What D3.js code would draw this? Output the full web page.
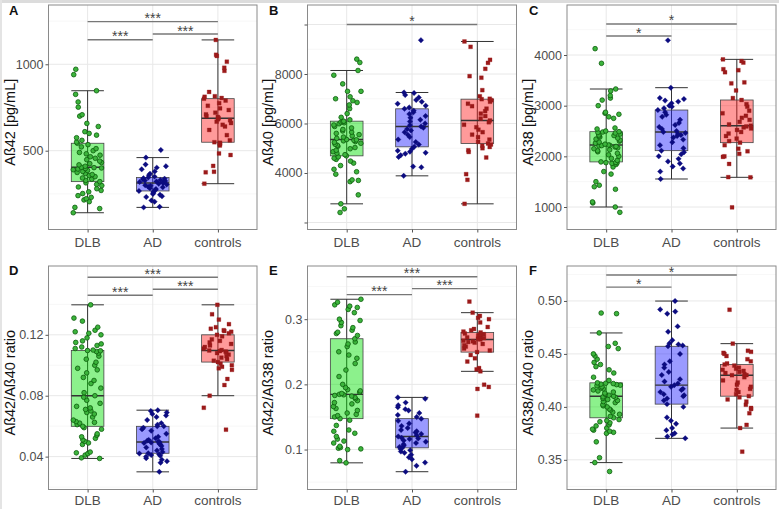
<!DOCTYPE html>
<html><head><meta charset="utf-8">
<script src="https://cdn.jsdelivr.net/npm/d3@7/dist/d3.min.js"></script>
<style>body{margin:0;background:#fff}svg text{font-family:"Liberation Sans",Arial,sans-serif}</style>
</head><body><svg id="chart" width="779" height="509"></svg>
<script>
const groups = ["DLB", "AD", "controls"];

// ---- Panel A: Aß42 [pg/mL]
const a42_DLB = [141,165,172,205,215,222,230,240,252,262,270,280,290,298,305,314,321,328,335,342,350,356,362,368,374,380,386,390,394,397,400,402,404,410,418,425,432,440,448,456,465,474,482,490,500,512,522,535,543,550,560,575,590,600,610,640,658,700,708,752,782,826,847,940,971];
const a42_AD = [172,175,205,212,232,236,245,250,255,262,267,272,278,283,288,292,297,300,304,308,313,316,319,322,325,328,331,335,338,341,345,350,358,366,380,392,402,410,420,460,504];
const a42_CTRL = [309,375,378,412,475,484,530,538,542,546,549,560,590,620,640,650,660,668,676,682,688,695,700,710,720,735,745,760,775,790,801,805,812,815,840,962,980,1015,1048,1055,1141];
const a42_ticks = [500, 1000];
const a42_range = [44, 1343];
const a42_sig = [["DLB","AD",1142,"***"],["AD","controls",1175,"***"],["DLB","controls",1247,"***"]];

// ---- Panel B: Aß40 [pg/mL]
const a40_DLB = [2404,2552,2754,3117,3650,3700,3720,3950,4050,4150,4300,4400,4480,4550,4600,4650,4693,4740,4800,4860,4920,4980,5030,5080,5120,5160,5200,5240,5270,5300,5320,5340,5353,5400,5450,5500,5550,5600,5650,5700,5760,5820,5880,5940,5990,6030,6060,6080,6094,6150,6250,6400,6600,6750,6850,6920,7000,7080,7300,7300,7600,7950,8142,8465,8600];
const a40_AD = [3885,4230,4262,4650,4720,4780,4820,4860,4900,4980,5057,5150,5250,5350,5450,5550,5650,5720,5780,5830,5879,5930,6000,6080,6150,6230,6300,6380,6450,6520,6593,6650,6720,6800,6880,6950,7050,7150,7230,7253,9368];
const a40_CTRL = [2754,3724,3953,4626,4850,4920,5000,5050,5100,5150,5192,5260,5350,5450,5550,5650,5750,5850,5950,6050,6121,6200,6300,6400,6500,6600,6700,6800,6880,6940,6983,7000,7100,7347,7850,7913,8209,8450,8573,9098,9314];
const a40_ticks = [2000, 4000, 6000, 8000, 10000];
const a40_labels = ["", "4000", "6000", "8000", ""];
const a40_range = [1717, 10788];
const a40_sig = [["DLB","controls",10000,"*"]];

// ---- Panel C: Aß38 [pg/mL]
const a38_DLB = [895,1000,1080,1100,1350,1400,1430,1500,1650,1700,1790,1840,1860,1870,1875,1880,1890,1920,1960,2000,2030,2060,2090,2110,2130,2150,2170,2185,2195,2205,2212,2218,2224,2240,2260,2280,2300,2320,2340,2360,2380,2400,2410,2420,2440,2460,2470,2480,2487,2500,2540,2560,2750,2780,2830,2850,2870,3000,3110,3150,3200,3290,3329,3836,4125];
const a38_AD = [1553,1700,1760,1800,1860,1900,1950,2000,2040,2080,2112,2160,2220,2280,2330,2370,2400,2420,2440,2460,2480,2500,2540,2580,2620,2660,2720,2780,2820,2870,2914,2950,2980,3000,3050,3080,3100,3130,3150,3355,4289];
const a38_CTRL = [993,1586,1590,1850,1990,2000,2050,2100,2150,2220,2270,2300,2350,2400,2450,2480,2520,2550,2570,2590,2605,2630,2680,2720,2760,2800,2850,2900,2980,3030,3112,3150,3300,3440,3460,3660,3700,3720,3850,3880,3914];
const a38_ticks = [1000, 2000, 3000, 4000];
const a38_range = [556, 4987];
const a38_sig = [["DLB","AD",4375,"*"],["DLB","controls",4612,"*"]];

// ---- Panel D: Aß42/Aß40 ratio
const r4240_DLB = [0.0388,0.0392,0.041,0.042,0.0425,0.043,0.048,0.049,0.050,0.051,0.052,0.053,0.054,0.055,0.058,0.059,0.0599,0.061,0.062,0.0625,0.063,0.064,0.066,0.068,0.069,0.070,0.071,0.072,0.073,0.075,0.077,0.079,0.080,0.082,0.085,0.088,0.090,0.092,0.095,0.097,0.098,0.100,0.102,0.104,0.106,0.108,0.109,0.1095,0.1097,0.110,0.111,0.112,0.113,0.114,0.115,0.116,0.118,0.120,0.121,0.122,0.123,0.125,0.129,0.131,0.1397];
const r4240_AD = [0.030,0.036,0.037,0.038,0.039,0.040,0.0405,0.041,0.0415,0.042,0.0422,0.043,0.044,0.045,0.046,0.047,0.048,0.0485,0.049,0.0493,0.0496,0.050,0.0505,0.051,0.052,0.053,0.055,0.057,0.058,0.059,0.0599,0.060,0.061,0.062,0.064,0.066,0.067,0.068,0.069,0.070,0.0705];
const r4240_CTRL = [0.0577,0.0721,0.080,0.087,0.091,0.097,0.098,0.099,0.100,0.101,0.1021,0.103,0.104,0.105,0.106,0.107,0.108,0.1085,0.109,0.1093,0.1097,0.110,0.111,0.112,0.113,0.114,0.115,0.116,0.117,0.119,0.120,0.121,0.122,0.1225,0.123,0.124,0.125,0.127,0.130,0.1335,0.1397];
const r4240_ticks = [0.04, 0.08, 0.12];
const r4240_range = [0.0184, 0.1652];
const r4240_sig = [["DLB","AD",0.146,"***"],["AD","controls",0.1499,"***"],["DLB","controls",0.1578,"***"]];

// ---- Panel E: Aß42/Aß38 ratio
const r4238_DLB = [0.0796,0.083,0.100,0.101,0.102,0.103,0.105,0.110,0.113,0.116,0.120,0.125,0.128,0.130,0.137,0.145,0.1474,0.150,0.152,0.154,0.156,0.160,0.163,0.166,0.170,0.172,0.175,0.178,0.180,0.182,0.183,0.184,0.1847,0.186,0.188,0.190,0.192,0.195,0.200,0.212,0.222,0.232,0.240,0.245,0.250,0.258,0.262,0.265,0.270,0.275,0.278,0.280,0.283,0.287,0.290,0.295,0.298,0.300,0.310,0.315,0.318,0.320,0.322,0.326,0.3306];
const r4238_AD = [0.066,0.075,0.080,0.085,0.088,0.092,0.095,0.097,0.099,0.101,0.1026,0.104,0.106,0.108,0.110,0.112,0.114,0.116,0.117,0.118,0.120,0.122,0.124,0.126,0.128,0.130,0.133,0.136,0.140,0.144,0.1474,0.150,0.153,0.156,0.160,0.162,0.165,0.168,0.172,0.178,0.180];
const r4238_CTRL = [0.152,0.193,0.196,0.1995,0.220,0.223,0.225,0.235,0.240,0.245,0.2495,0.252,0.255,0.258,0.260,0.262,0.264,0.265,0.266,0.267,0.2689,0.270,0.271,0.272,0.273,0.274,0.275,0.276,0.277,0.278,0.2796,0.281,0.283,0.285,0.288,0.295,0.300,0.302,0.305,0.310,0.327];
const r4238_ticks = [0.1, 0.2, 0.3];
const r4238_range = [0.0387, 0.3816];
const r4238_sig = [["DLB","AD",0.3377,"***"],["AD","controls",0.3469,"***"],["DLB","controls",0.3652,"***"]];

// ---- Panel F: Aß38/Aß40 ratio
const r3840_DLB = [0.339,0.3474,0.352,0.367,0.375,0.376,0.377,0.378,0.379,0.380,0.382,0.383,0.385,0.386,0.387,0.388,0.3897,0.391,0.393,0.395,0.397,0.398,0.400,0.401,0.402,0.404,0.405,0.406,0.407,0.408,0.409,0.4095,0.4101,0.411,0.412,0.413,0.414,0.415,0.416,0.417,0.418,0.419,0.420,0.4205,0.421,0.4215,0.422,0.4223,0.4227,0.425,0.428,0.432,0.435,0.438,0.440,0.442,0.445,0.448,0.450,0.455,0.457,0.460,0.4698,0.488,0.4886];
const r3840_AD = [0.3703,0.372,0.374,0.375,0.378,0.380,0.384,0.387,0.390,0.400,0.4026,0.406,0.408,0.410,0.411,0.412,0.414,0.416,0.417,0.419,0.4205,0.422,0.424,0.426,0.430,0.433,0.437,0.440,0.443,0.450,0.4572,0.458,0.459,0.460,0.463,0.471,0.476,0.488,0.490,0.492,0.4999];
const r3840_CTRL = [0.3577,0.380,0.383,0.394,0.398,0.399,0.402,0.405,0.407,0.409,0.4101,0.412,0.414,0.416,0.417,0.419,0.421,0.423,0.425,0.428,0.4299,0.430,0.431,0.432,0.433,0.434,0.435,0.436,0.437,0.439,0.440,0.441,0.443,0.445,0.448,0.450,0.451,0.452,0.453,0.4597,0.4917];
const r3840_ticks = [0.35, 0.40, 0.45, 0.50];
const r3840_range = [0.322, 0.533];
const r3840_sig = [["DLB","AD",0.5131,"*"],["DLB","controls",0.5245,"*"]];

const panels = [
  {letter:"A", title:"Aß42 [pg/mL]", data:[a42_DLB,a42_AD,a42_CTRL], ticks:a42_ticks, range:a42_range, sig:a42_sig, fmt:d3.format("d")},
  {letter:"B", title:"Aß40 [pg/mL]", data:[a40_DLB,a40_AD,a40_CTRL], ticks:a40_ticks, labels:a40_labels, range:a40_range, sig:a40_sig, fmt:d3.format("d")},
  {letter:"C", title:"Aß38 [pg/mL]", data:[a38_DLB,a38_AD,a38_CTRL], ticks:a38_ticks, range:a38_range, sig:a38_sig, fmt:d3.format("d")},
  {letter:"D", title:"Aß42/Aß40 ratio", data:[r4240_DLB,r4240_AD,r4240_CTRL], ticks:r4240_ticks, range:r4240_range, sig:r4240_sig, fmt:d3.format(".2f")},
  {letter:"E", title:"Aß42/Aß38 ratio", data:[r4238_DLB,r4238_AD,r4238_CTRL], ticks:r4238_ticks, range:r4238_range, sig:r4238_sig, fmt:d3.format(".1f")},
  {letter:"F", title:"Aß38/Aß40 ratio", data:[r3840_DLB,r3840_AD,r3840_CTRL], ticks:r3840_ticks, range:r3840_range, sig:r3840_sig, fmt:d3.format(".2f")}
];

const cols = [[48.5, 257], [307.5, 516.5], [567, 776]];
const titleX = [9.5, 267.5, 527.5];
const letterX = [9, 269, 529];
const rows = [[5, 229.5], [266, 489.5]];
const rowLetterY = [15, 275];
const rowXLabelY = [247, 505];

const boxFill = ["#00e000", "#2020ff", "#ff2020"];
const ptFill = ["#3cb43c", "#0c0c80", "#9b1a1a"];
const ptStroke = ["#0b5d0b", "#0c0c80", "#9b1a1a"];

const svg = d3.select("#chart");
svg.append("rect").attr("x",0).attr("y",0).attr("width",779).attr("height",3).attr("fill","#dcdcdc");
svg.append("rect").attr("x",0).attr("y",0).attr("width",2).attr("height",509).attr("fill","#e4e4e4");

function hash(i, k) { const s = Math.sin(i * 12.9898 + k * 78.233) * 43758.5453; return s - Math.floor(s); }

panels.forEach((p, pi) => {
  const c = pi % 3, r = Math.floor(pi / 3);
  const [x0, x1] = cols[c], [y0, y1] = rows[r];
  const x = d3.scalePoint().domain(groups).range([x0, x1]).padding(0.6);
  const unit = x.step();
  const y = d3.scaleLinear().domain(p.range).range([y1, y0]);
  const g = svg.append("g");

  const step = p.ticks[1] - p.ticks[0];
  const minor = [];
  for (let v = p.ticks[0] - step / 2; v <= p.range[1]; v += step) if (v >= p.range[0]) minor.push(v);
  g.selectAll(".mn").data(minor).join("line")
    .attr("x1", x0).attr("x2", x1).attr("y1", d => y(d)).attr("y2", d => y(d))
    .attr("stroke", "#f2f2f2").attr("stroke-width", 0.6);
  g.selectAll(".mj").data(p.ticks.filter(v => v >= p.range[0] && v <= p.range[1])).join("line")
    .attr("x1", x0).attr("x2", x1).attr("y1", d => y(d)).attr("y2", d => y(d))
    .attr("stroke", "#e8e8e8").attr("stroke-width", 1);
  g.selectAll(".vx").data(groups).join("line")
    .attr("x1", d => x(d)).attr("x2", d => x(d)).attr("y1", y0).attr("y2", y1)
    .attr("stroke", "#e8e8e8").attr("stroke-width", 1);

  p.data.forEach((vals, gi) => {
    const s = vals.slice().sort(d3.ascending);
    const q1 = d3.quantileSorted(s, 0.25), md = d3.quantileSorted(s, 0.5), q3 = d3.quantileSorted(s, 0.75);
    const iqr = q3 - q1;
    const lo = d3.min(s.filter(v => v >= q1 - 1.5 * iqr));
    const hi = d3.max(s.filter(v => v <= q3 + 1.5 * iqr));
    const cx = x(groups[gi]), bw = unit * 0.5;
    g.append("line").attr("x1", cx).attr("x2", cx).attr("y1", y(lo)).attr("y2", y(hi))
      .attr("stroke", "#333").attr("stroke-width", 1);
    [lo, hi].forEach(v => g.append("line").attr("x1", cx - bw/2).attr("x2", cx + bw/2)
      .attr("y1", y(v)).attr("y2", y(v)).attr("stroke", "#333").attr("stroke-width", 1));
    g.append("rect").attr("x", cx - bw/2).attr("width", bw).attr("y", y(q3)).attr("height", y(q1) - y(q3))
      .attr("fill", boxFill[gi]).attr("fill-opacity", 0.45).attr("stroke", "#444").attr("stroke-width", 0.8);
    g.append("line").attr("x1", cx - bw/2).attr("x2", cx + bw/2).attr("y1", y(md)).attr("y2", y(md))
      .attr("stroke", "#333").attr("stroke-width", 1.4);
  });

  p.data.forEach((vals, gi) => {
    const cx = x(groups[gi]);
    const sym = gi === 0 ? d3.symbol(d3.symbolCircle, 17) : d3.symbol(d3.symbolSquare, 15);
    g.selectAll(null).data(vals).join("path")
      .attr("d", sym)
      .attr("transform", (d, i) => `translate(${cx + (hash(i, pi * 3 + gi) - 0.5) * 2 * 0.22 * unit},${y(d)})` + (gi === 1 ? " rotate(45)" : ""))
      .attr("fill", ptFill[gi]).attr("stroke", ptStroke[gi]).attr("stroke-width", gi === 0 ? 0.8 : 0.3);
  });

  p.sig.forEach(([a, b, v, lab]) => {
    g.append("line").attr("x1", x(a)).attr("x2", x(b)).attr("y1", y(v)).attr("y2", y(v))
      .attr("stroke", "#777").attr("stroke-width", 1.4);
    g.append("text").attr("x", (x(a) + x(b)) / 2).attr("y", y(v) + 1.5).attr("text-anchor", "middle")
      .attr("font-size", 14).attr("fill", "#444").text(lab);
  });

  g.append("rect").attr("x", x0).attr("y", y0).attr("width", x1 - x0).attr("height", y1 - y0)
    .attr("fill", "none").attr("stroke", "#8a8a8a").attr("stroke-width", 1);

  const yAx = d3.axisLeft(y).tickValues(p.ticks).tickSize(3).tickPadding(2)
    .tickFormat((d, i) => p.labels ? p.labels[i] : p.fmt(d));
  const ya = g.append("g").attr("transform", `translate(${x0},0)`).call(yAx);
  ya.select(".domain").remove();
  ya.selectAll("line").attr("stroke", "#555");
  ya.selectAll("text").attr("font-size", 12.5).attr("fill", "#4d4d4d").attr("font-family", "Liberation Sans, Arial, sans-serif");

  const xAx = d3.axisBottom(x).tickSize(3).tickPadding(0).tickFormat(() => "");
  const xa = g.append("g").attr("transform", `translate(0,${y1})`).call(xAx);
  xa.select(".domain").remove();
  xa.selectAll("line").attr("stroke", "#555");
  g.selectAll(".xl").data(groups).join("text")
    .attr("x", d => x(d)).attr("y", rowXLabelY[r]).attr("text-anchor", "middle")
    .attr("font-size", 13.5).attr("fill", "#4d4d4d").text(d => d);

  g.append("text").attr("transform", `translate(${titleX[c]},${(y0 + y1) / 2 + 5}) rotate(-90)`)
    .attr("text-anchor", "middle").attr("dominant-baseline", "central")
    .attr("font-size", 14.5).attr("fill", "#111").text(p.title);

  g.append("text").attr("x", letterX[c]).attr("y", rowLetterY[r])
    .attr("font-size", 13).attr("font-weight", "bold").attr("fill", "#111").text(p.letter);
});
</script></body></html>
